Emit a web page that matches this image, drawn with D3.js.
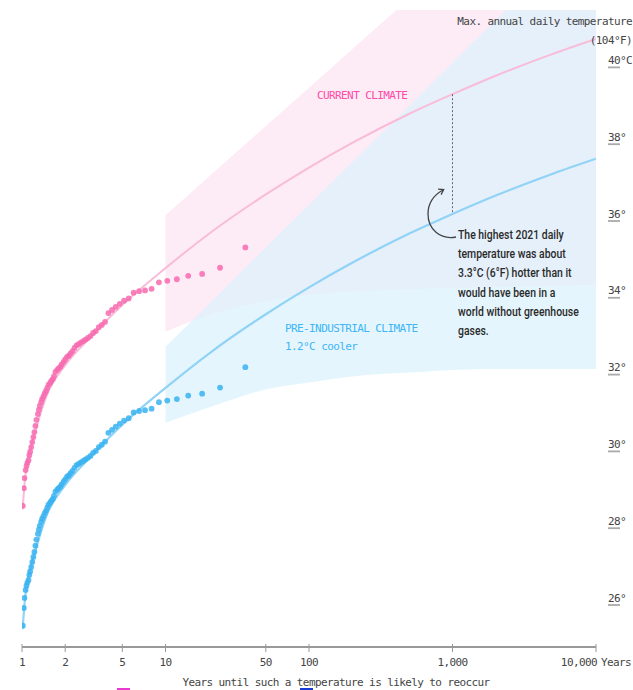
<!DOCTYPE html>
<html>
<head>
<meta charset="utf-8">
<script src="https://cdn.jsdelivr.net/npm/d3@7"></script>
<style>
  html, body { margin: 0; padding: 0; background: #fff; }
  svg { display: block; }
</style>
</head>
<body>
<svg id="chart" width="633" height="690"></svg>
<script>
// ---------------- DATA ----------------
// return periods (years) of the ranked observed annual maxima
const returnPeriods = [36, 24, 18, 14.4, 12, 10.29, 9, 8, 7.2, 6.55,
  6, 5.54, 5.14, 4.8, 4.5, 4.24, 4, 3.79, 3.6, 3.43,
  3.27, 3.13, 3, 2.88, 2.77, 2.67, 2.57, 2.48, 2.4, 2.32,
  2.25, 2.18, 2.12, 2.06, 2, 1.95, 1.89, 1.85, 1.8, 1.76,
  1.71, 1.67, 1.64, 1.6, 1.57, 1.53, 1.5, 1.47, 1.44, 1.41,
  1.38, 1.36, 1.33, 1.31, 1.29, 1.26, 1.24, 1.22, 1.2, 1.18,
  1.16, 1.14, 1.125, 1.11, 1.09, 1.075, 1.06, 1.04, 1.03, 1.014];

const currentTemps = [35.12, 34.59, 34.43, 34.38, 34.29, 34.25, 34.21, 34.04, 34.00, 33.98,
  33.94, 33.79, 33.73, 33.65, 33.57, 33.49, 33.41, 33.18, 33.10, 33.04,
  32.94, 32.89, 32.81, 32.76, 32.72, 32.68, 32.64, 32.60, 32.57, 32.50,
  32.42, 32.36, 32.30, 32.27, 32.20, 32.14, 32.07, 32.01, 31.97, 31.93,
  31.88, 31.77, 31.69, 31.64, 31.59, 31.54, 31.46, 31.38, 31.32, 31.24,
  31.17, 31.09, 30.99, 30.89, 30.78, 30.63, 30.47, 30.31, 30.18, 30.05,
  29.92, 29.80, 29.71, 29.58, 29.51, 29.43, 29.32, 29.11, 28.85, 28.39];

const preIndustrialTemps = [32.00, 31.47, 31.31, 31.26, 31.17, 31.13, 31.09, 30.92, 30.88, 30.86,
  30.82, 30.67, 30.61, 30.53, 30.45, 30.37, 30.29, 30.06, 29.98, 29.92,
  29.82, 29.77, 29.69, 29.64, 29.60, 29.56, 29.52, 29.48, 29.45, 29.38,
  29.30, 29.24, 29.18, 29.15, 29.08, 29.02, 28.95, 28.89, 28.85, 28.81,
  28.76, 28.65, 28.57, 28.52, 28.47, 28.42, 28.34, 28.26, 28.20, 28.12,
  28.05, 27.97, 27.87, 27.77, 27.66, 27.51, 27.35, 27.19, 27.06, 26.93,
  26.80, 26.68, 26.59, 26.46, 26.39, 26.31, 26.20, 25.99, 25.73, 25.27];

// fitted return-level curves
const fitPeriods = [1.01, 1.05, 1.1, 1.2, 1.5, 2, 3, 5, 10, 20, 50, 100, 200, 500, 1000, 2000, 5000, 10000];
const currentFit = [28.30, 29.10, 29.60, 30.15, 31.30, 32.05, 32.78, 33.62, 34.58, 35.47, 36.50, 37.20, 37.84, 38.60, 39.11, 39.59, 40.16, 40.55];
const preIndustrialFit = [25.18, 25.98, 26.48, 27.03, 28.18, 28.93, 29.66, 30.50, 31.46, 32.35, 33.38, 34.08, 34.72, 35.48, 35.99, 36.47, 37.04, 37.43];

// confidence bands
const bandPeriods = [10, 20, 50, 100, 200, 500, 1000, 2000, 5000, 10000];
const currentUpper = [35.96, 36.96, 38.28, 39.28, 40.28, 41.6, 42.6, 43.6, 44.9, 45.9];
const currentLower = [32.92, 33.35, 33.72, 33.88, 33.97, 34.03, 34.06, 34.09, 34.12, 34.14];
const preUpper = [32.53, 33.64, 35.12, 36.23, 37.34, 38.81, 39.93, 41.04, 42.5, 43.6];
const preLower = [30.55, 30.95, 31.42, 31.6, 31.76, 31.86, 31.93, 31.95, 31.95, 31.95];

// axes
const xTicks = [1, 2, 5, 10, 50, 100, 1000, 10000];
const xTickLabels = ["1", "2", "5", "10", "50", "100", "1,000", "10,000"];
const yTicks = [26, 28, 30, 32, 34, 36, 38, 40];
const yTickLabels = ["26°", "28°", "30°", "32°", "34°", "36°", "38°", "40°C"];

const annotationLines = ["The highest 2021 daily", "temperature was about",
  "3.3°C (6°F) hotter than it", "would have been in a",
  "world without greenhouse", "gases."];

// ---------------- CHART ----------------
const svg = d3.select("#chart");
const mono = "'DejaVu Sans Mono', 'Liberation Mono', monospace";

const x = d3.scaleLog().domain([1, 10000]).range([22, 596]);
const y = d3.scaleLinear().domain([26, 40]).range([597.6, 60]);

const PINK = "#f76aaf", BLUE = "#38b3f1";

svg.append("defs").append("clipPath").attr("id", "plotclip")
  .append("rect").attr("x", 22).attr("y", 10).attr("width", 574).attr("height", 637);

const plot = svg.append("g").attr("clip-path", "url(#plotclip)");

const band = (upper, lower) => d3.area()
  .x((d, i) => x(bandPeriods[i]))
  .y0((d, i) => y(lower[i]))
  .y1((d, i) => y(upper[i]))
  .curve(d3.curveMonotoneX);

plot.append("path")
  .attr("d", band(currentUpper, currentLower)(bandPeriods))
  .attr("fill", "#fdecf5");
plot.append("path")
  .attr("d", band(preUpper, preLower)(bandPeriods))
  .attr("fill", "rgb(220,242,252)").attr("fill-opacity", 0.75);

const fitLine = (vals) => d3.line()
  .x((d, i) => x(fitPeriods[i]))
  .y((d, i) => y(vals[i]))
  .curve(d3.curveMonotoneX)(fitPeriods);

plot.append("path").attr("d", fitLine(currentFit))
  .attr("fill", "none").attr("stroke", "#f8bcd8").attr("stroke-width", 2);
plot.append("path").attr("d", fitLine(preIndustrialFit))
  .attr("fill", "none").attr("stroke", "#90d3f6").attr("stroke-width", 2.2);

// points
plot.append("g").selectAll("circle").data(returnPeriods).join("circle")
  .attr("cx", d => x(d)).attr("cy", (d, i) => y(preIndustrialTemps[i]))
  .attr("r", 2.9).attr("fill", BLUE).attr("fill-opacity", 0.85);
plot.append("g").selectAll("circle").data(returnPeriods).join("circle")
  .attr("cx", d => x(d)).attr("cy", (d, i) => y(currentTemps[i]))
  .attr("r", 2.9).attr("fill", PINK).attr("fill-opacity", 0.85);

// dashed difference line at 1,000 years
const idx1000 = fitPeriods.indexOf(1000);
svg.append("line")
  .attr("x1", x(1000)).attr("x2", x(1000))
  .attr("y1", y(currentFit[idx1000])).attr("y2", y(preIndustrialFit[idx1000]))
  .attr("stroke", "#666").attr("stroke-width", 1).attr("stroke-dasharray", "2,2");

// series labels
svg.append("text").attr("x", 317).attr("y", 99)
  .attr("font-family", mono).attr("font-size", 11).attr("letter-spacing", -0.6)
  .attr("fill", "#ff4aa8").text("CURRENT CLIMATE");
svg.append("text").attr("x", 285).attr("y", 332)
  .attr("font-family", mono).attr("font-size", 11).attr("letter-spacing", -0.6)
  .attr("fill", "#3db6f5").text("PRE-INDUSTRIAL CLIMATE");
svg.append("text").attr("x", 285).attr("y", 350)
  .attr("font-family", mono).attr("font-size", 11).attr("letter-spacing", -0.6)
  .attr("fill", "#3db6f5").text("1.2°C cooler");

// annotation arrow
svg.append("defs").append("marker").attr("id", "arrowhead")
  .attr("viewBox", "0 0 10 10").attr("refX", 6).attr("refY", 5)
  .attr("markerWidth", 6).attr("markerHeight", 6).attr("orient", "auto")
  .append("path").attr("d", "M1,1 L7,5 L1,9").attr("fill", "none")
  .attr("stroke", "#444").attr("stroke-width", 1.6);
svg.append("path")
  .attr("d", "M456,237 C440,240 428,229 428,214 C428,203 434,195 443,190")
  .attr("fill", "none").attr("stroke", "#444").attr("stroke-width", 1.3)
  .attr("marker-end", "url(#arrowhead)");

// annotation text
const ann = svg.append("g");
const annText = ann.append("text")
  .attr("font-family", "Roboto, 'Liberation Sans', Arial, sans-serif")
  .attr("font-size", 13.5).attr("font-weight", 500).attr("fill", "#2a2a2a");
annText.selectAll("tspan").data(annotationLines).join("tspan")
  .attr("x", 0).attr("y", (d, i) => 239 + i * 19.2).text(d => d);
let maxW = 0;
annText.selectAll("tspan").each(function () {
  maxW = Math.max(maxW, this.getComputedTextLength());
});
const sx = maxW > 0 ? 121 / maxW : 1;
ann.attr("transform", `translate(458,0) scale(${sx},1)`);

// y-axis (right)
const yAxis = svg.append("g");
yTicks.forEach((t, i) => {
  yAxis.append("text").attr("x", 608).attr("y", y(t) + 4)
    .attr("font-family", mono).attr("font-size", 11).attr("letter-spacing", -0.6)
    .attr("fill", "#444").text(yTickLabels[i]);
  yAxis.append("rect").attr("x", 608).attr("y", y(t) + 6.5)
    .attr("width", 12).attr("height", 1.8).attr("fill", "#aaa");
});
svg.append("text").attr("x", 632).attr("y", 25).attr("text-anchor", "end")
  .attr("font-family", mono).attr("font-size", 11).attr("letter-spacing", -0.6)
  .attr("fill", "#444").text("Max. annual daily temperature");
svg.append("text").attr("x", 632).attr("y", 44).attr("text-anchor", "end")
  .attr("font-family", mono).attr("font-size", 11).attr("letter-spacing", -0.6)
  .attr("fill", "#444").text("(104°F)");

// x-axis (bottom)
const xAxisG = svg.append("g");
xAxisG.append("line").attr("x1", x(1)).attr("x2", x(10000))
  .attr("y1", 647).attr("y2", 647).attr("stroke", "#999").attr("stroke-width", 2);
xTicks.forEach((t, i) => {
  xAxisG.append("line").attr("x1", x(t)).attr("x2", x(t))
    .attr("y1", 644).attr("y2", 652).attr("stroke", "#999").attr("stroke-width", 1);
  const last = i === xTicks.length - 1;
  xAxisG.append("text").attr("x", last ? x(t) + 1 : x(t)).attr("y", 666)
    .attr("text-anchor", last ? "end" : "middle")
    .attr("font-family", mono).attr("font-size", 11).attr("letter-spacing", -0.6)
    .attr("fill", "#444").text(xTickLabels[i]);
});
xAxisG.append("text").attr("x", 601).attr("y", 666)
  .attr("font-family", mono).attr("font-size", 11).attr("letter-spacing", -0.6)
  .attr("fill", "#444").text("Years");
xAxisG.append("text").attr("x", 336).attr("y", 686).attr("text-anchor", "middle")
  .attr("font-family", mono).attr("font-size", 11).attr("letter-spacing", -0.6)
  .attr("fill", "#444").text("Years until such a temperature is likely to reoccur");

// small legend swatches at bottom edge
svg.append("rect").attr("x", 117).attr("y", 688).attr("width", 13).attr("height", 2).attr("fill", "#e83ad0");
svg.append("rect").attr("x", 300).attr("y", 688).attr("width", 13).attr("height", 2).attr("fill", "#1a3ad8");
</script>
</body>
</html>
